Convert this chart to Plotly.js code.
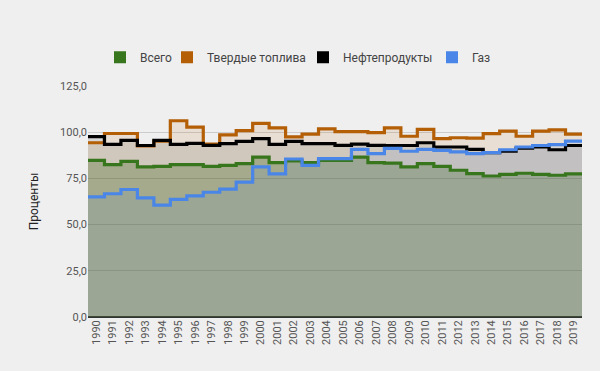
<!DOCTYPE html>
<html>
<head>
<meta charset="utf-8">
<script src="https://cdn.plot.ly/plotly-3.0.1.min.js"></script>
<style>
  html, body { margin: 0; padding: 0; background: #efefef; }
  #chart { width: 600px; height: 371px; }
</style>
</head>
<body>
<div id="chart"></div>
<script>
const years = [1990,1991,1992,1993,1994,1995,1996,1997,1998,1999,2000,2001,2002,2003,2004,2005,2006,2007,2008,2009,2010,2011,2012,2013,2014,2015,2016,2017,2018,2019];
const seriesNames = ["Всего", "Твердые топлива", "Нефтепродукты", "Газ"];
const total = [84.8,82.4,84.2,81.2,81.5,82.4,82.5,81.5,82.0,83.0,86.5,83.5,84.5,83.5,84.8,84.8,86.5,83.5,83.3,81.2,83.0,81.5,79.4,77.6,76.3,77.2,77.8,77.2,76.7,77.4];
const solid = [94.3,99.3,99.3,92.6,95.2,106.2,102.8,93.5,98.5,100.8,104.8,102.3,97.5,99.0,101.8,100.3,100.3,99.8,102.3,97.8,101.5,96.5,97.0,96.8,99.2,100.6,97.8,100.6,101.3,99.0];
const oil = [97.6,93.4,95.6,92.8,95.6,93.4,94.0,92.9,93.8,95.0,96.5,93.4,95.0,93.8,93.8,92.9,93.5,92.9,92.8,92.8,94.3,92.0,92.0,90.7,89.0,89.7,91.4,92.0,90.5,92.8];
const gas = [65.0,66.7,69.0,64.5,60.5,63.7,65.5,67.5,69.2,73.0,81.2,77.5,85.5,82.0,85.7,85.7,90.7,88.4,91.2,89.7,90.7,90.2,89.3,88.4,89.0,90.5,92.0,92.8,93.3,95.2];
const yTicks = [0, 25, 50, 75, 100, 125];

const colors = ["#38761d", "#b45f06", "#000000", "#4a86e8"];
const fills = ["rgba(56,118,29,0.30)", "rgba(180,95,6,0.12)", "rgba(0,0,0,0.10)", "rgba(74,134,232,0.10)"];
const allSeries = [total, solid, oil, gas];
const legendIds = ["legend", "legend2", "legend3", "legend4"];
const legendLeft = [100, 167, 303, 432];

const xs = years.map(y => y - 0.5).concat([years[years.length - 1] + 0.5]);
function stepY(v) { return v.concat([v[v.length - 1]]); }

const traces = [];
allSeries.forEach((v, i) => {
  traces.push({
    x: xs, y: stepY(v), type: "scatter", mode: "lines",
    line: { shape: "hv", width: 0, color: colors[i] },
    fill: "tozeroy", fillcolor: fills[i],
    showlegend: false, hoverinfo: "skip"
  });
});
allSeries.forEach((v, i) => {
  traces.push({
    x: xs, y: stepY(v), type: "scatter", mode: "lines",
    line: { shape: "hv", width: 3.2, color: colors[i] },
    showlegend: false, name: seriesNames[i]
  });
});
seriesNames.forEach((n, i) => {
  traces.push({
    x: [null], y: [null], type: "scatter", mode: "markers",
    marker: { symbol: "square", size: 12, color: colors[i] },
    name: n, showlegend: true, legend: legendIds[i]
  });
});

const layout = {
  width: 600, height: 371,
  paper_bgcolor: "#efefef", plot_bgcolor: "#efefef",
  font: { family: "Roboto, Arial, sans-serif", size: 11, color: "#444" },
  separators: ", ",
  margin: { l: 88, r: 18, t: 86, b: 54 },
  showlegend: true,
  xaxis: {
    range: [years[0] - 0.5, years[years.length - 1] + 0.5],
    tickvals: years, ticktext: years.map(String), tickangle: -90,
    showgrid: false, zeroline: false, showline: false, ticks: "",
    tickfont: { size: 11, color: "#555" }, fixedrange: true
  },
  yaxis: {
    range: [0, 125], tickvals: yTicks, tickformat: ".1f",
    showgrid: true, gridcolor: "#cccccc", gridwidth: 1,
    zeroline: true, zerolinecolor: "#333333", zerolinewidth: 1.5,
    showline: false, ticks: "",
    tickfont: { size: 11, color: "#555" },
    title: { text: "Проценты", font: { size: 12, color: "#222" }, standoff: 18 },
    fixedrange: true
  }
};
legendIds.forEach((id, i) => {
  layout[id] = {
    orientation: "h", xref: "container", yref: "container",
    x: legendLeft[i] / 600, xanchor: "left", y: 0.846, yanchor: "middle",
    font: { size: 12, color: "#444" }, itemwidth: 30,
    bgcolor: "rgba(0,0,0,0)"
  };
});

Plotly.newPlot("chart", traces, layout, { displayModeBar: false, staticPlot: true });
</script>
</body>
</html>
